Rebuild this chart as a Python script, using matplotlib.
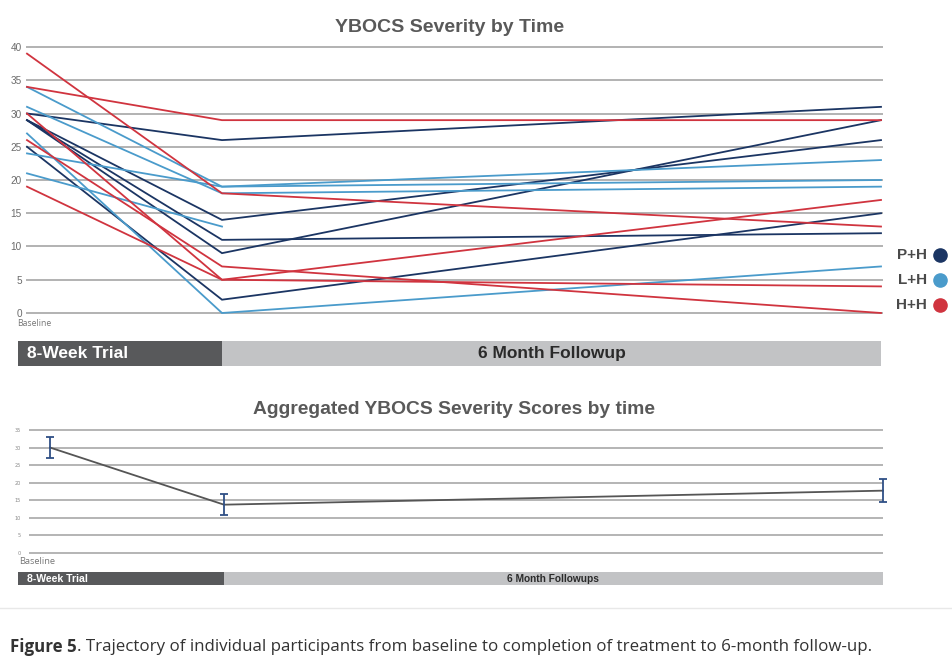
import numpy as np
import matplotlib
matplotlib.use("Agg")
import matplotlib.pyplot as plt
from matplotlib.patches import Rectangle
from matplotlib.lines import Line2D

# ---------------- data ----------------
stages = ["Baseline", "End of 8-Week Trial", "6 Month Followup"]
stage_idx = [0, 1, 2]

ph_scores = [[30, 26, 31], [29, 14, 26], [29, 11, 12], [29, 9, 29], [25, 2, 15]]
lh_scores = [[34, 19, 23], [31, 18, 19], [24, 19, 20], [21, 13, np.nan], [27, 0, 7]]
hh_scores = [[39, 18, 13], [34, 29, 29], [30, 5, 17], [26, 7, 0], [19, 5, 4]]

group_labels = ["P+H", "L+H", "H+H"]
group_colors = ["#1b3563", "#4a9bcb", "#d0343f"]

agg_mean = [30.0, 13.7, 17.7]
agg_err = [3.0, 3.0, 3.3]

top_yticks = list(range(0, 41, 5))
bottom_yticks = list(range(0, 36, 5))

# ---------------- layout helpers ----------------
W, H = 953, 665
NARROW = ["Liberation Sans Narrow", "Liberation Sans", "DejaVu Sans"]
OPEN = ["Open Sans", "DejaVu Sans"]


def rect(x0, y0, x1, y1):
    return [x0 / W, 1 - y1 / H, (x1 - x0) / W, (y1 - y0) / H]


def fx(px):
    return px / W


def fy(py):
    return 1 - py / H


def piecewise(r):
    def fwd(x):
        x = np.asarray(x, float)
        return np.where(x <= 1, x, 1 + (x - 1) * r)

    def inv(y):
        y = np.asarray(y, float)
        return np.where(y <= 1, y, 1 + (y - 1) / r)

    return fwd, inv


fig = plt.figure(figsize=(W / 100, H / 100), dpi=100)
fig.patch.set_facecolor("white")

# ---------------- top chart ----------------
ppu = (313 - 47) / 40
ax1 = fig.add_axes(rect(26, 47 - 0.6 * ppu, 883, 313 + 0.6 * ppu))
r1 = (881 - 222) / (222 - 27)
ax1.set_xscale("function", functions=piecewise(r1))
xl = -(27 - 26) / 195
xr = 1 + ((883 - 27) / 195 - 1) / r1
ax1.set_xlim(xl, xr)
ax1.set_ylim(-0.6, 40.6)
for s in ax1.spines.values():
    s.set_visible(False)
ax1.set_yticks(top_yticks)
ax1.set_xticks([])
ax1.yaxis.grid(True, color="#adadad", lw=1.3)
ax1.set_axisbelow(True)
ax1.tick_params(axis="y", length=0, pad=3, labelsize=7.2, labelcolor="#6b6b6b")
for lab in ax1.get_yticklabels():
    lab.set_fontfamily(NARROW)

for scores, col in zip([ph_scores, lh_scores, hh_scores], group_colors):
    for row in scores:
        ax1.plot(stage_idx, row, color=col, lw=1.3, clip_on=False,
                 solid_joinstyle="miter")

fig.text(fx(17), fy(323), "Baseline", ha="left", va="center", fontsize=6.2,
         color="#777777", family=OPEN)

fig.text(fx(450), fy(27), "YBOCS Severity by Time", ha="center", va="center",
         fontsize=14, weight="bold", color="#595959", family=NARROW)

# phase band (top)
fig.add_artist(Rectangle((fx(18), fy(366)), fx(222) - fx(18), fy(341) - fy(366),
                         transform=fig.transFigure, facecolor="#58595b", edgecolor="none"))
fig.add_artist(Rectangle((fx(222), fy(366)), fx(881) - fx(222), fy(341) - fy(366),
                         transform=fig.transFigure, facecolor="#c2c3c5", edgecolor="none"))
fig.text(fx(27), fy(353.5), "8-Week Trial", ha="left", va="center", fontsize=12.5,
         weight="bold", color="white", family=NARROW)
fig.text(fx(552), fy(353.5), "6 Month Followup", ha="center", va="center", fontsize=12.5,
         weight="bold", color="#2a2a2a", family=NARROW)

# legend
for i, (lab, col) in enumerate(zip(group_labels, group_colors)):
    yy = 255 + 25 * i
    fig.text(fx(927), fy(yy), lab, ha="right", va="center", fontsize=11,
             weight="bold", color="#4a4a4a", family=["Liberation Sans", "DejaVu Sans"])
    fig.add_artist(Line2D([fx(940)], [fy(yy)], marker="o", ms=9.5, color=col,
                          mec=col, transform=fig.transFigure))

# ---------------- bottom chart ----------------
ppu2 = (552.7 - 430) / 35
ax2 = fig.add_axes(rect(29, 430 - 1 * ppu2, 883, 552.7 + 1 * ppu2))
r2 = (883 - 224) / (224 - 50)
ax2.set_xscale("function", functions=piecewise(r2))
ax2.set_xlim(-(50 - 29) / 174, 2.0)
ax2.set_ylim(-1, 36)
for s in ax2.spines.values():
    s.set_visible(False)
ax2.set_yticks(bottom_yticks)
ax2.set_xticks([])
ax2.yaxis.grid(True, color="#a0a0a0", lw=1.1)
ax2.set_axisbelow(True)
ax2.tick_params(axis="y", length=0, pad=6, labelsize=3.5, labelcolor="#888888")

ax2.plot(stage_idx, agg_mean, color="#555555", lw=1.3, clip_on=False, zorder=3)
ax2.errorbar(stage_idx, agg_mean, yerr=agg_err, fmt="none", ecolor="#2f4f86",
             elinewidth=1.3, capsize=2.7, capthick=1.3, clip_on=False, zorder=4)

fig.text(fx(19), fy(561), "Baseline", ha="left", va="center", fontsize=6.7,
         color="#777777", family=OPEN)
fig.text(fx(454.5), fy(410), "Aggregated YBOCS Severity Scores by time", ha="center",
         va="center", fontsize=13.9, weight="bold", color="#595959", family=NARROW)

fig.add_artist(Rectangle((fx(18), fy(585)), fx(224) - fx(18), fy(572) - fy(585),
                         transform=fig.transFigure, facecolor="#58595b", edgecolor="none"))
fig.add_artist(Rectangle((fx(224), fy(585)), fx(883) - fx(224), fy(572) - fy(585),
                         transform=fig.transFigure, facecolor="#c2c3c5", edgecolor="none"))
fig.text(fx(27), fy(578.5), "8-Week Trial", ha="left", va="center", fontsize=7.6,
         weight="bold", color="white", family=NARROW)
fig.text(fx(553), fy(578.5), "6 Month Followups", ha="center", va="center", fontsize=7.3,
         weight="bold", color="#2a2a2a", family=NARROW)

# ---------------- caption ----------------
fig.add_artist(Line2D([0, 1], [fy(608), fy(608)], color="#e8e8e8", lw=1,
                      transform=fig.transFigure))
t1 = fig.text(fx(10), fy(647), "Figure 5", ha="left", va="center", fontsize=12.2,
              weight="bold", color="#333333", family=OPEN)
renderer = fig.canvas.get_renderer()
bb = t1.get_window_extent(renderer=renderer)
fig.text(bb.x1 / W, fy(647), ". Trajectory of individual participants from baseline to "
         "completion of treatment to 6-month follow-up.", ha="left", va="center",
         fontsize=12.2, color="#333333", family=OPEN)

fig.savefig("out.png", dpi=100, facecolor="white")
